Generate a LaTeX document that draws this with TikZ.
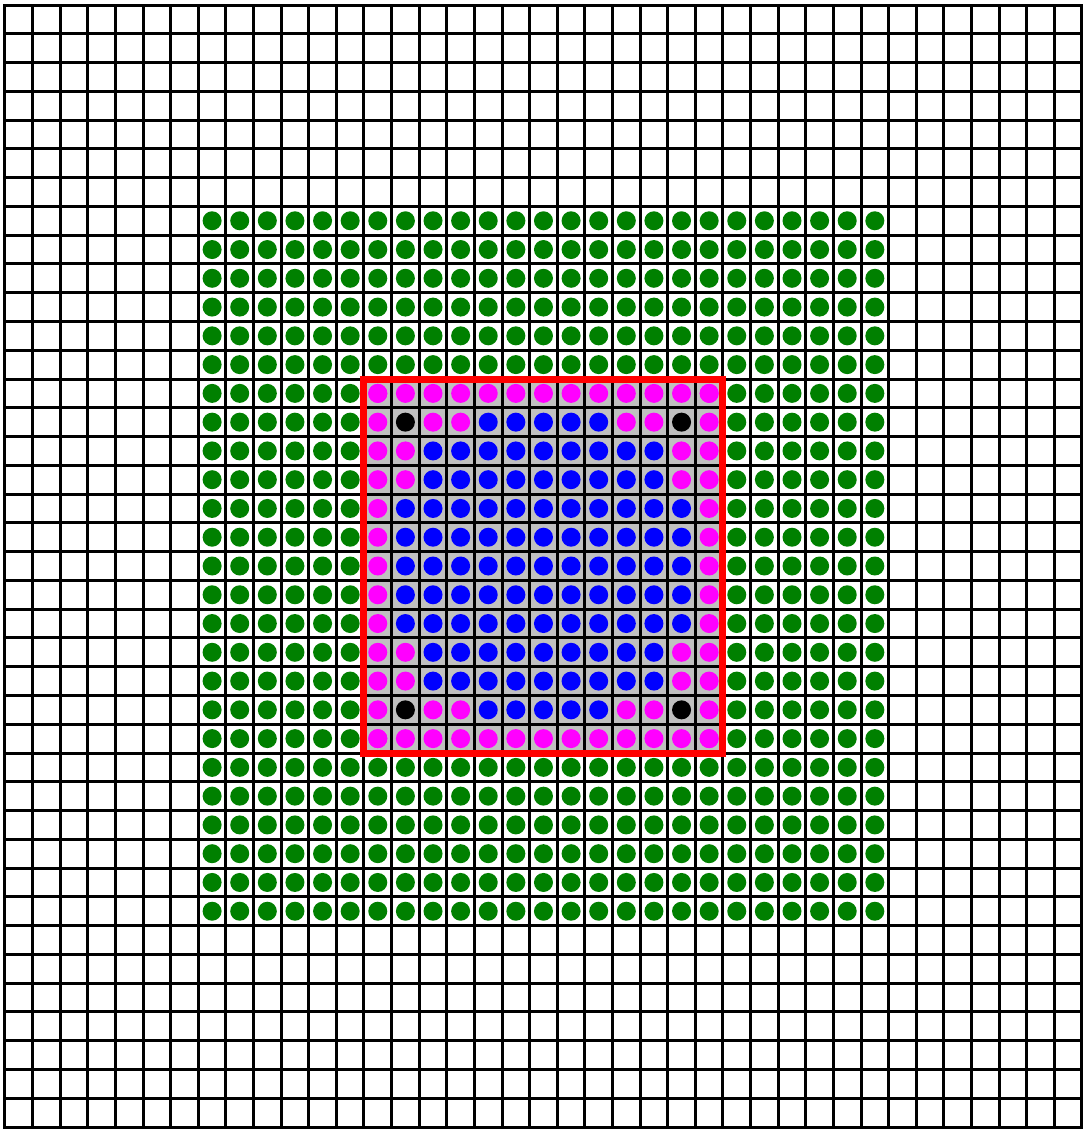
\documentclass[tikz,border=0pt]{standalone}
\usepackage{xcolor}
\usepackage{tikz}
\definecolor{dotGreen}{RGB}{0,128,0}
\definecolor{dotPink}{RGB}{255,0,255}
\definecolor{dotBlue}{RGB}{0,0,255}
\definecolor{cellGray}{RGB}{192,192,192}

\begin{document}
\begin{tikzpicture}[
  x=27.615pt, y=-28.77pt,
  gridline/.style={line width=3pt, black, line cap=rect},
  redbox/.style={line width=7pt, red},
  celldot/.style={fill=#1}
]

\useasboundingbox (-0.181,-0.174) rectangle (39.072,39.07);

% Gray block under the red frame
\fill[cellGray] (13,13) rectangle (26,26);

% Grid
\foreach \k in {0,...,39} {
  \draw[gridline] (\k,0) -- (\k,39);
  \draw[gridline] (0,\k) -- (39,\k);
}

% Green ring of dots
\foreach \c in {7,...,31}
  \foreach \r in {7,...,31} {
    \pgfmathtruncatemacro\inside{(\c>12)&&(\c<26)&&(\r>12)&&(\r<26)}
    \ifnum\inside=0
      \fill[celldot=dotGreen] (\c+0.5,\r+0.5) circle (9.5pt);
    \fi
  }

% Pink border and corner dots
\foreach \k in {13,...,25} {
  \fill[celldot=dotPink] (\k+0.5,13.5) circle (9.5pt);
  \fill[celldot=dotPink] (\k+0.5,25.5) circle (9.5pt);
  \fill[celldot=dotPink] (13.5,\k+0.5) circle (9.5pt);
  \fill[celldot=dotPink] (25.5,\k+0.5) circle (9.5pt);
}
\foreach \k in {15,16,22,23} {
  \fill[celldot=dotPink] (\k+0.5,14.5) circle (9.5pt);
  \fill[celldot=dotPink] (\k+0.5,24.5) circle (9.5pt);
  \fill[celldot=dotPink] (14.5,\k+0.5) circle (9.5pt);
  \fill[celldot=dotPink] (24.5,\k+0.5) circle (9.5pt);
}

% Blue interior
\foreach \c in {15,...,23}
  \foreach \r in {15,...,23}
    \fill[celldot=dotBlue] (\c+0.5,\r+0.5) circle (9.5pt);
\foreach \k in {17,...,21} {
  \fill[celldot=dotBlue] (\k+0.5,14.5) circle (9.5pt);
  \fill[celldot=dotBlue] (\k+0.5,24.5) circle (9.5pt);
  \fill[celldot=dotBlue] (14.5,\k+0.5) circle (9.5pt);
  \fill[celldot=dotBlue] (24.5,\k+0.5) circle (9.5pt);
}

% Black corners
\foreach \c in {14,24}
  \foreach \r in {14,24}
    \fill[celldot=black] (\c+0.5,\r+0.5) circle (9.5pt);

% Red frame
\draw[redbox] (13,13) rectangle (26,26);

\end{tikzpicture}
\end{document}
